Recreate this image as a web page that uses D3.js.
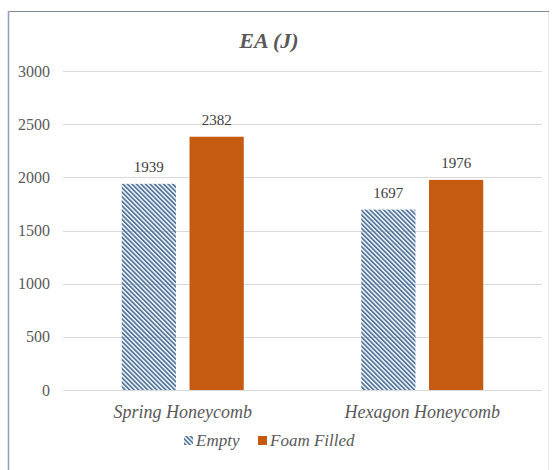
<!DOCTYPE html>
<html>
<head>
<script src="https://d3js.org/d3.v7.min.js"></script>
</head>
<body style="margin:0">
<svg id="chart" width="557" height="470"></svg>
<script>
const categories = ['Spring Honeycomb', 'Hexagon Honeycomb'];
const seriesNames = ['Empty', 'Foam Filled'];
const emptyValues = [1939, 1697];
const foamValues = [2382, 1976];
const yTicks = [0, 500, 1000, 1500, 2000, 2500, 3000];

const svgWidth = 557;
const svgHeight = 470;
const margin = { top: 71, right: 15, bottom: 80, left: 63 };
const width = svgWidth - margin.left - margin.right;
const height = svgHeight - margin.top - margin.bottom;
const fontSerif = 'Liberation Serif';

const svg = d3.select('#chart').style('font-family', `"${fontSerif}"`);

// hatch for the "Empty" series
const defs = svg.append('defs');
defs.append('pattern')
    .attr('id', 'hatch')
    .attr('patternUnits', 'userSpaceOnUse')
    .attr('width', 3.2)
    .attr('height', 10)
    .attr('patternTransform', 'rotate(-45)')
    .append('rect')
    .attr('width', 1.8)
    .attr('height', 10)
    .attr('fill', '#52779f');

// chart frame
svg.append('rect')
    .attr('x', 8.5).attr('y', 11.5)
    .attr('width', 540).attr('height', 470)
    .attr('fill', '#fff')
    .attr('stroke', '#e4e9f0');
svg.append('line')
    .attr('x1', 8).attr('x2', 549).attr('y1', 11.5).attr('y2', 11.5)
    .attr('stroke', '#7d8899').attr('stroke-width', 1.2);
svg.append('line')
    .attr('x1', 8.5).attr('x2', 8.5).attr('y1', 11).attr('y2', 470)
    .attr('stroke', '#8ea0bb').attr('stroke-width', 1.5);

const g = svg.append('g')
    .attr('transform', `translate(${margin.left},${margin.top})`);

const x0 = d3.scaleBand()
    .domain(categories)
    .range([0, width]);

const x1 = d3.scaleBand()
    .domain(seriesNames)
    .range([0, 122])
    .paddingInner(0.2);

const yScale = d3.scaleLinear()
    .domain([0, 3000])
    .range([height, 0]);

// gridlines
g.append('g')
    .selectAll('line')
    .data(yTicks)
    .enter()
    .append('line')
    .attr('x1', 0)
    .attr('x2', width)
    .attr('y1', d => Math.round(yScale(d)) + 0.5)
    .attr('y2', d => Math.round(yScale(d)) + 0.5)
    .attr('stroke', '#d9d9d9')
    .attr('stroke-width', 1);

// y axis labels
const yAxis = d3.axisLeft(yScale)
    .tickValues(yTicks)
    .tickFormat(d3.format('d'))
    .tickSize(0)
    .tickPadding(13);
g.append('g')
    .call(yAxis)
    .call(a => a.select('.domain').remove())
    .attr('font-family', `"${fontSerif}"`)
    .attr('font-size', 16)
    .selectAll('text')
    .style('font-family', `"${fontSerif}"`)
    .attr('fill', '#595959');

// x axis labels
const xAxis = d3.axisBottom(x0).tickSize(0).tickPadding(15);
g.append('g')
    .attr('transform', `translate(0,${height})`)
    .call(xAxis)
    .call(a => a.select('.domain').remove())
    .attr('font-family', `"${fontSerif}"`)
    .attr('font-size', 18)
    .selectAll('text')
    .style('font-family', `"${fontSerif}"`)
    .style('font-style', 'italic')
    .attr('fill', '#595959');

const rows = categories.map((c, i) => ({
    category: c,
    values: [
        { key: 'Empty', value: emptyValues[i] },
        { key: 'Foam Filled', value: foamValues[i] }
    ]
}));

const groups = g.selectAll('.group')
    .data(rows)
    .enter()
    .append('g')
    .attr('class', 'group')
    .attr('transform', d => `translate(${x0(d.category) + x0.bandwidth() / 2 - 61},0)`);

groups.selectAll('rect')
    .data(d => d.values)
    .enter()
    .append('rect')
    .attr('x', d => x1(d.key))
    .attr('y', d => yScale(d.value))
    .attr('width', x1.bandwidth())
    .attr('height', d => height - yScale(d.value))
    .attr('fill', d => d.key === 'Empty' ? 'url(#hatch)' : '#c55a11');

groups.selectAll('.label')
    .data(d => d.values)
    .enter()
    .append('text')
    .attr('class', 'label')
    .attr('x', d => x1(d.key) + x1.bandwidth() / 2)
    .attr('y', d => yScale(d.value) - 12)
    .attr('text-anchor', 'middle')
    .style('font-family', `"${fontSerif}"`)
    .attr('font-size', 15)
    .attr('fill', '#404040')
    .text(d => d.value);

// title
svg.append('text')
    .attr('x', 269)
    .attr('y', 48)
    .attr('text-anchor', 'middle')
    .style('font-family', `"${fontSerif}"`)
    .attr('font-size', 22)
    .style('font-weight', 'bold')
    .style('font-style', 'italic')
    .attr('fill', '#595959')
    .text('EA (J)');

// legend
const legendItems = [
    { name: seriesNames[0], fill: 'url(#hatch)', x: 184 },
    { name: seriesNames[1], fill: '#c55a11', x: 258 }
];
const legend = svg.append('g').attr('transform', 'translate(0,446)');
legendItems.forEach(item => {
    legend.append('rect')
        .attr('x', item.x)
        .attr('y', -10)
        .attr('width', 9)
        .attr('height', 9)
        .attr('fill', item.fill);
    legend.append('text')
        .attr('x', item.x + 12)
        .attr('y', 0)
        .style('font-family', `"${fontSerif}"`)
        .attr('font-size', 17)
        .style('font-style', 'italic')
        .attr('fill', '#595959')
        .text(item.name);
});
</script>
</body>
</html>
